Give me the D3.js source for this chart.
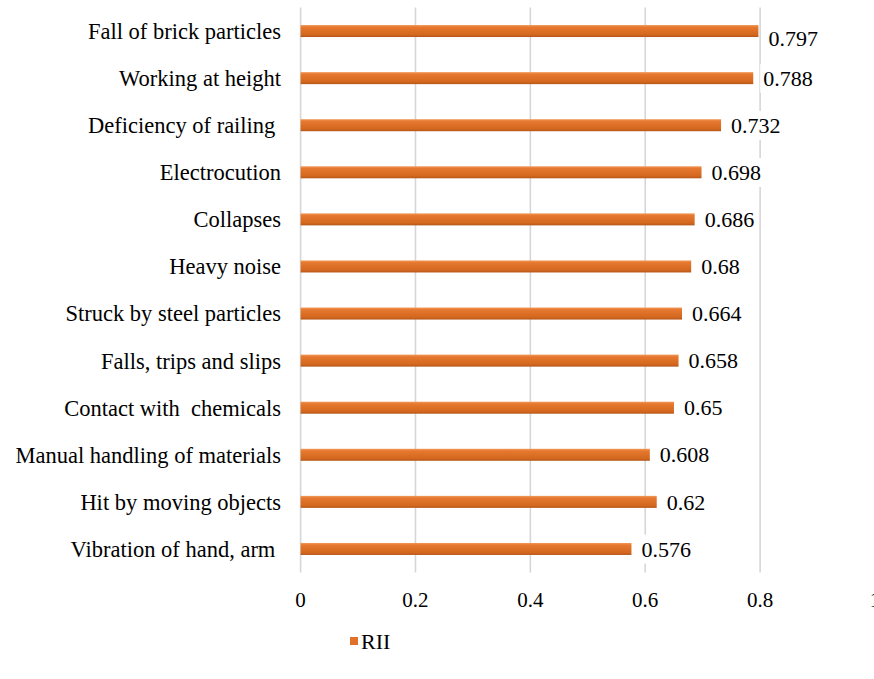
<!DOCTYPE html>
<html>
<head>
<meta charset="utf-8">
<script src="https://cdn.jsdelivr.net/npm/d3@7"></script>
<style>
  html, body { margin: 0; padding: 0; background: #fff; }
  svg { display: block; }
  text { font-family: "Liberation Serif", "Times New Roman", serif; fill: #000; white-space: pre; }
</style>
</head>
<body>
<svg id="chart" width="874" height="679"></svg>
<script>
// Hazard categories, top to bottom
const categories = [
  "Fall of brick particles",
  "Working at height",
  "Deficiency of railing ",
  "Electrocution",
  "Collapses",
  "Heavy noise",
  "Struck by steel particles",
  "Falls, trips and slips",
  "Contact with  chemicals",
  "Manual handling of materials",
  "Hit by moving objects",
  "Vibration of hand, arm "
];
// Relative importance index for each hazard
const rii = [0.797, 0.788, 0.732, 0.698, 0.686, 0.68, 0.664, 0.658, 0.65, 0.608, 0.62, 0.576];
const xTicks = [0, 0.2, 0.4, 0.6, 0.8, 1];
const seriesName = "RII";

const svg = d3.select("#chart");
const plotTop = 7.5, plotBottom = 572.5;

const x = d3.scaleLinear().domain([0, 1]).range([300.6, 875]);
const y = d3.scaleBand().domain(categories).range([plotTop, plotBottom]).paddingInner(0.745).paddingOuter(0.3725);

// Bar fill gradient
const defs = svg.append("defs");
const grad = defs.append("linearGradient").attr("id", "barGrad")
  .attr("x1", 0).attr("y1", 0).attr("x2", 0).attr("y2", 1);
grad.append("stop").attr("offset", "0%").attr("stop-color", "#F19A5A");
grad.append("stop").attr("offset", "18%").attr("stop-color", "#E6782F");
grad.append("stop").attr("offset", "80%").attr("stop-color", "#D4681F");
grad.append("stop").attr("offset", "100%").attr("stop-color", "#B4561A");

// Vertical gridlines
svg.append("g").selectAll("line").data(xTicks).join("line")
  .attr("x1", d => x(d)).attr("x2", d => x(d))
  .attr("y1", plotTop).attr("y2", plotBottom)
  .attr("stroke", "#D6D6D6").attr("stroke-width", 1.6);

// Bars
svg.append("g").selectAll("rect").data(rii).join("rect")
  .attr("x", x(0))
  .attr("y", (d, i) => y(categories[i]))
  .attr("width", d => x(d) - x(0))
  .attr("height", y.bandwidth())
  .attr("fill", "url(#barGrad)");

// Category labels
svg.append("g").selectAll("text").data(categories).join("text")
  .attr("x", 281)
  .attr("y", d => y(d) + y.bandwidth() / 2)
  .attr("dy", "0.35em")
  .attr("text-anchor", "end")
  .attr("font-size", 22.5)
  .text(d => d);

// Value labels with white backing
const labelG = svg.append("g");
rii.forEach((v, i) => {
  const cy = Math.max(y(categories[i]) + y.bandwidth() / 2, 38);
  const g = labelG.append("g");
  const t = g.append("text")
    .attr("x", x(v) + 10)
    .attr("y", cy)
    .attr("dy", "0.35em")
    .attr("font-size", 22)
    .text(v);
  const bb = t.node().getBBox();
  g.insert("rect", "text")
    .attr("x", bb.x - 3).attr("y", bb.y - 2)
    .attr("width", bb.width + 6).attr("height", bb.height + 4)
    .attr("fill", "#fff");
});

// X axis tick labels
svg.append("g").selectAll("text").data(xTicks).join("text")
  .attr("x", d => x(d))
  .attr("y", 607)
  .attr("text-anchor", "middle")
  .attr("font-size", 21)
  .text(d => d3.format("")(d));

// Legend
svg.append("rect").attr("x", 350).attr("y", 637).attr("width", 8).attr("height", 8).attr("fill", "#E0702A");
svg.append("text").attr("x", 361).attr("y", 649).attr("font-size", 22).text(seriesName);
</script>
</body>
</html>
